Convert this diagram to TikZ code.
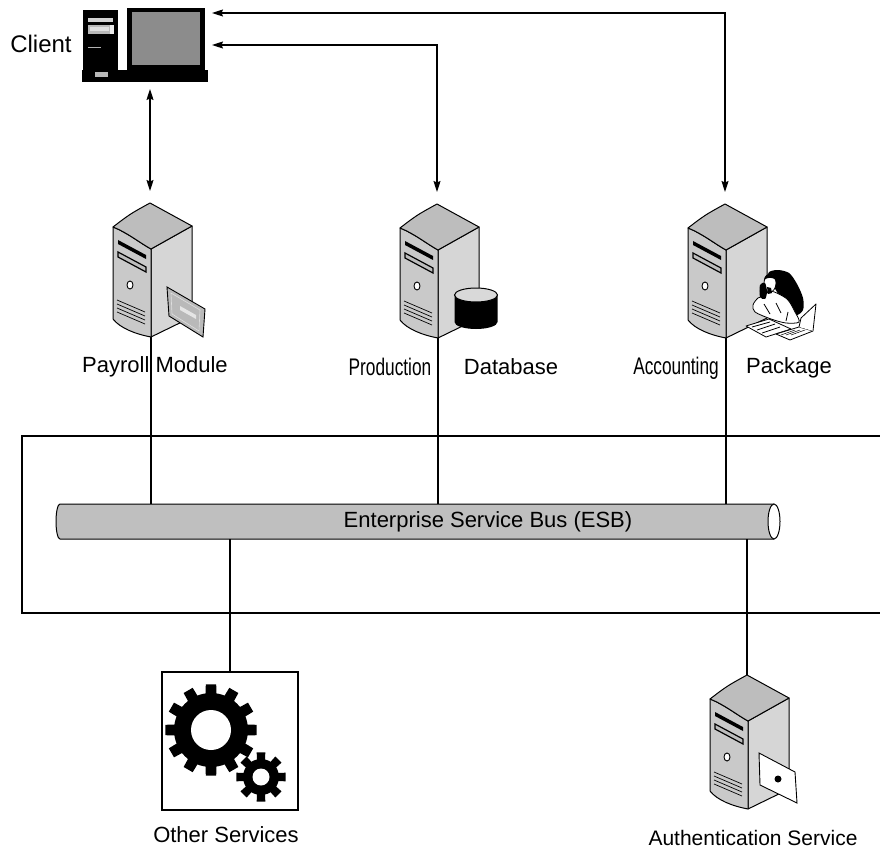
\documentclass[tikz,border=0pt]{standalone}
\usepackage{fontspec}
\setmainfont{Liberation Sans}
\newfontfamily\narrowfont[FakeStretch=0.72]{Liberation Sans}
\usetikzlibrary{arrows.meta}

\definecolor{srvtop}{gray}{0.74}
\definecolor{srvfront}{gray}{0.79}
\definecolor{srvside}{gray}{0.84}
\definecolor{busgray}{gray}{0.75}
\definecolor{screen}{gray}{0.55}

\tikzset{
  lbl/.style={font=\fontsize{22}{26}\selectfont, inner sep=0pt},
  narrowlbl/.style={font=\narrowfont\fontsize{24}{28}\selectfont, inner sep=0pt},
  link/.style={line width=2.2pt},
  tap/.style={line width=1.3pt},
  arr/.style={line width=1.1pt, {Stealth[length=11pt,width=7pt,inset=1.5pt]}-{Stealth[length=11pt,width=7pt,inset=1.5pt]}},
  server/.pic={
    % right face, front face, then the lid
    \draw[fill=srvside, line width=1pt, line join=round] (1,46) -- (42,23) -- (42,114) -- (1,134) -- cycle;
    \draw[fill=srvfront, line width=1pt, line join=round] (-37,24) .. controls (-22,30) and (-10,40) .. (1,46)
      -- (1,134) .. controls (-15,131) and (-30,125) .. (-37,116) -- cycle;
    \draw[fill=srvtop, line width=1pt, line join=round] (0,0) .. controls (-20,11) .. (-37,24)
      .. controls (-22,30) and (-10,40) .. (1,46) -- (42,23) -- cycle;
    % drive bays, button, vents
    \fill (-32,37) -- (-4,52) -- (-4,56) -- (-32,41) -- cycle;
    \draw[fill=srvtop, line width=1.2pt] (-32,49) -- (-4,64) -- (-4,69) -- (-32,54) -- cycle;
    \draw[fill=white, line width=0.9pt] (-20,82) ellipse[x radius=3, y radius=4];
    \foreach \k in {0,1,2,3}
      \draw[line width=0.7pt] (-33,97+4*\k) -- (-5,109+4*\k);
    \coordinate (-apex) at (0,0);
    \coordinate (-top) at (0,-12);
    \coordinate (-bot) at (1,134);
  }
}

\begin{document}
\begin{tikzpicture}[x=1pt,y=-1pt]
  \useasboundingbox (0,0) rectangle (880,850);

  % client workstation
  \fill (83,10) rectangle (118,80);
  \fill[gray!35] (88,18) rectangle (113,22);
  \fill[gray!55] (88,25) rectangle (114,34);
  \fill[gray!25] (90,27) rectangle (109,31);
  \fill[gray!15] (110,25) rectangle (114,34);
  \draw[gray!60, line width=0.8pt] (88,47) -- (101,47);
  \fill (127,8) rectangle (205,70);
  \fill[screen] (132,12) rectangle (200,65);
  \fill (82,70) rectangle (208,82);
  \fill[gray!55] (95,72) rectangle (108,77);
  \coordinate (cl-b) at (150,89);
  \coordinate (cl-r1) at (212,13);
  \coordinate (cl-r2) at (212,45);
  \node[lbl, font=\fontsize{24}{28}\selectfont] (cl-lbl) at (41,44) {Client};

  % application servers
  \pic (pay) at (150,203) {server};
  \pic (prd) at (437,204) {server};
  \pic (acc) at (725,204) {server};
  \pic (ath) at (747,675) {server};

  % cheque in the payroll box
  \begin{scope}[shift={(150,203)}]
    \draw[fill=gray!55, line width=0.9pt] (17,84) -- (55,106) -- (53,134) -- (19,113) -- cycle;
    \draw[gray!25, line width=0.6pt] (21,90) -- (50,107) -- (49,128) -- (22,111) -- cycle;
    \fill[gray!20] (30,103) -- (46,112) -- (46,116) -- (30,107) -- cycle;
  \end{scope}

  % database drum
  \begin{scope}[shift={(437,204)}]
    \fill (17.5,91) -- (17.5,118) arc[start angle=180, end angle=0, x radius=21.5, y radius=7] -- (60.5,91) -- cycle;
    \draw[fill=gray!30, line width=1pt] (39,91) ellipse[x radius=21.5, y radius=7];
  \end{scope}

  % clerk on the phone at his desk
  \begin{scope}[line width=0.8pt, line join=round]
    \fill plot[smooth cycle] coordinates {(768,274) (777,270) (789,273) (797,284) (803,298) (803,310) (796,315) (787,306) (777,292)};
    \draw[fill=white] plot[smooth cycle] coordinates {(771,291) (787,299) (795,312) (799,322) (786,323) (771,319) (755,312) (753,305) (758,298) (764,296)};
    \draw (764,304) -- (770,314) (776,303) -- (781,313) (788,312) -- (786,321);
    \draw[fill=white] (770,283) ellipse[x radius=6, y radius=9];
    \fill (764,280) .. controls (765,272) and (775,271) .. (776,280) .. controls (772,277) and (768,277) .. cycle;
    \fill (767,287) -- (771,288) -- (772,293) -- (768,294) -- cycle;
    \fill plot[smooth cycle] coordinates {(760,285) (765,283) (767,292) (765,299) (760,297)};
    \draw[fill=white] (746,326) -- (769,319) -- (791,329) -- (766,337) -- cycle;
    \draw (752,327) -- (770,322) (757,330) -- (775,324) (762,333) -- (780,327);
    \draw[fill=white] (776,334) -- (799,327) -- (813,331) -- (790,340) -- cycle;
    \draw[fill=white] (799,327) -- (801,318) -- (816,304) -- (813,331);
    \foreach \k in {0,1,2}
      \draw[line width=0.5pt] (781+5*\k,335) -- (795+5*\k,330);
  \end{scope}

  % key card
  \begin{scope}[shift={(747,675)}]
    \draw[fill=white, line width=0.9pt] (12,78) -- (48,97) -- (50,128) -- (13,110) -- cycle;
    \fill (31,104) circle[radius=3.5];
  \end{scope}

  \node[lbl] (pay-lbl) at (155,367) {Payroll Module};
  \node[narrowlbl] (prd-lbl) at (390,367) {Production};
  \node[lbl] (db-lbl) at (511,367) {Database};
  \node[narrowlbl] (acc-lbl) at (676,368) {Accounting};
  \node[lbl] (pkg-lbl) at (789,368) {Package};

  % service bus
  \draw[line width=2pt] (880,436) -- (22,436) -- (22,613) -- (880,613);
  \node[minimum width=724pt, minimum height=35pt, inner sep=0pt] (bus) at (418,521.5) {};
  \draw[fill=busgray, line width=1pt] (774,504) -- (60,504)
    arc[start angle=-90, end angle=-270, x radius=4, y radius=17.5] -- (774,539);
  \draw[fill=white, line width=1pt] (774,521.5) ellipse[x radius=6, y radius=17.5];
  \node[lbl] (esb-lbl) at (488,522) {Enterprise Service Bus (ESB)};

  % other services
  \node[draw, line width=1.3pt, minimum width=136pt, minimum height=138pt, inner sep=0pt] (oth) at (230,741) {};
  \begin{scope}[shift={(211,730)}]
    \fill (0,0) circle[radius=37];
    \foreach \a in {0,30,...,330}
      \fill (\a-9:35) -- (\a-6.5:46) -- (\a+6.5:46) -- (\a+9:35) -- cycle;
    \fill[white] (0,0) circle[radius=20];
  \end{scope}
  \begin{scope}[shift={(261,777)}]
    \fill[white] (0,0) circle[radius=21];
    \fill (0,0) circle[radius=18];
    \foreach \a in {0,45,...,315}
      \fill (\a-14:16) -- (\a-10:25) -- (\a+10:25) -- (\a+14:16) -- cycle;
    \fill[white] (0,0) circle[radius=8.5];
  \end{scope}
  \node[lbl] (oth-lbl) at (226,835) {Other Services};
  \node[lbl, font=\fontsize{21}{25}\selectfont] (ath-lbl) at (753,838) {Authentication Service};

  % connections
  \draw[link] (pay-bot) -- (pay-bot |- bus.north);
  \draw[link] (prd-bot) -- (prd-bot |- bus.north);
  \draw[link] (acc-bot) -- (acc-bot |- bus.north);
  \draw[tap] (bus.south -| oth.north) -- (oth.north);
  \draw[tap] (bus.south -| ath-apex) -- (ath-apex);
  \draw[arr] (cl-b) -- (pay-top);
  \draw[arr] (cl-r2) -| (prd-top);
  \draw[arr] (cl-r1) -| (acc-top);
\end{tikzpicture}
\end{document}
